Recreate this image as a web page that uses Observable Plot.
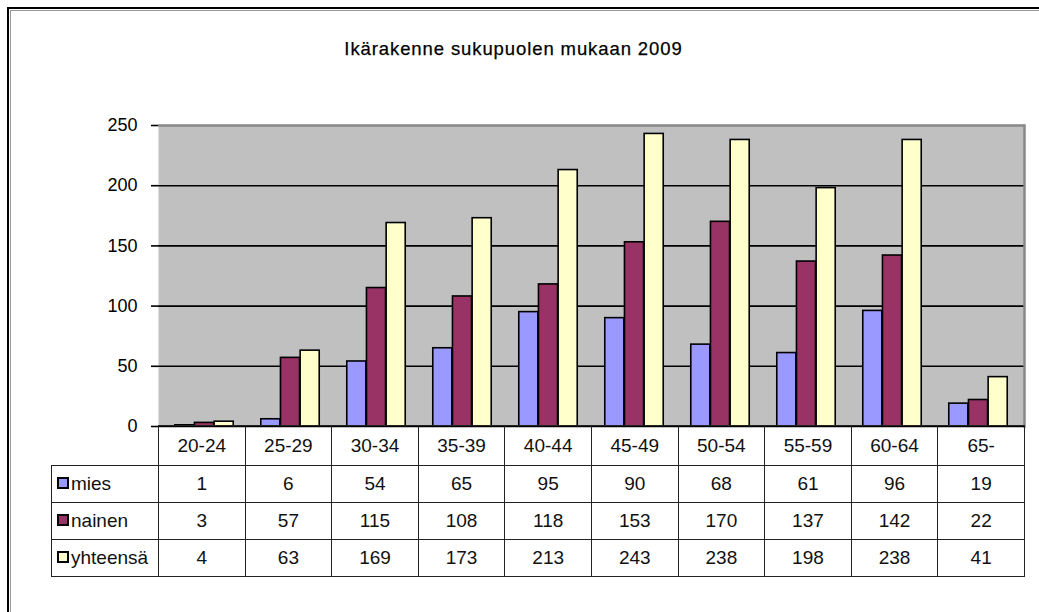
<!DOCTYPE html>
<html><head><meta charset="utf-8">
<script src="https://cdn.jsdelivr.net/npm/d3@7"></script>
<script src="https://cdn.jsdelivr.net/npm/@observablehq/plot@0.6"></script>
<style>
body{margin:0;background:#fff;font-family:"Liberation Sans",Arial,sans-serif;}
#wrap{position:relative;width:1039px;height:612px;overflow:hidden;background:#fff;}
.b1{position:absolute;left:7px;top:7px;width:1100px;height:700px;border-top:2px solid #000;border-left:2px solid #000;}
.b2{position:absolute;left:10px;top:10px;width:1100px;height:700px;border-top:1px solid #999;border-left:1px solid #999;}
#title{position:absolute;left:0;width:1027px;top:38px;text-align:center;font-size:18.5px;letter-spacing:0.9px;color:#000;-webkit-text-stroke:0.25px #000;}
#chart{position:absolute;left:0;top:0;}
#tbl{position:absolute;left:51px;top:425px;border-collapse:collapse;table-layout:fixed;font-size:19px;color:#111;}
#tbl td{border:1.5px solid #222;text-align:center;padding:0;white-space:nowrap;overflow:hidden;}
#tbl td.leg{text-align:left;padding-left:5px;}
#tbl td.corner{border-top:hidden;border-left:hidden;}
.key{display:inline-block;width:8px;height:8px;border:2px solid #000;margin-right:2px;vertical-align:1px;}
</style>
</head><body>
<div id="wrap">
  <div class="b1"></div><div class="b2"></div>
  <div id="title"></div>
  <div id="chart"></div>
</div>
<script>
const titleText = "Ikärakenne sukupuolen mukaan 2009";
const categories = ["20-24","25-29","30-34","35-39","40-44","45-49","50-54","55-59","60-64","65-"];
const series = ["mies","nainen","yhteensä"];
const mies = [1,6,54,65,95,90,68,61,96,19];
const nainen = [3,57,115,108,118,153,170,137,142,22];
const yhteensa = [4,63,169,173,213,243,238,198,238,41];
const colors = ["#9999FF","#993366","#FFFFCC"];
const yTicks = [0,50,100,150,200,250];

document.getElementById("title").textContent = titleText;

const W = 1039, H = 612, mL = 158, mR = 15, mT = 125, mB = 186;
const bw = (W - mL - mR) / categories.length;
const inner = d3.scaleBand().domain(series).range([0, bw]).paddingInner(0).paddingOuter(0.7);
const values = [mies, nainen, yhteensa];
const rows = categories.map((c, i) => {
  const r = {cat: c};
  series.forEach((s, k) => r[s] = values[k][i]);
  return r;
});

const barMarks = series.map((s, k) => Plot.barY(rows, {
  x: "cat", y: s, fill: colors[k], stroke: "#000", strokeWidth: 1.6,
  insetLeft: inner(s), insetRight: bw - inner(s) - inner.bandwidth()
}));

const chart = Plot.plot({
  width: W, height: H,
  marginLeft: mL, marginRight: mR, marginTop: mT, marginBottom: mB,
  style: {fontFamily: "'Liberation Sans', Arial, sans-serif", fontSize: "18px", background: "transparent", color: "#000", overflow: "visible"},
  x: {domain: categories, padding: 0, axis: null},
  y: {domain: [0, 250], axis: null},
  marks: [
    Plot.frame({fill: "#C0C0C0"}),
    Plot.ruleY(yTicks.filter(v => v > 0 && v < 250), {stroke: "#000", strokeWidth: 1.6}),
    Plot.ruleY([250], {stroke: "#888", strokeWidth: 2.5}),
    Plot.frame({anchor: "right", stroke: "#888", strokeWidth: 2.5}),
    ...barMarks,
    Plot.axisY({ticks: yTicks, tickSize: 7, tickPadding: 14, label: null, fontSize: 18, line: true, stroke: "#000", strokeWidth: 1.6, tickFormat: d3.format("d")}),
    Plot.ruleY([0], {stroke: "#000", strokeWidth: 1.6})
  ]
});
document.getElementById("chart").appendChild(chart);

// data table below the chart
const tbl = document.createElement("table");
tbl.id = "tbl";
const cg = document.createElement("colgroup");
const c0 = document.createElement("col"); c0.style.width = (mL - 51) + "px"; cg.appendChild(c0);
categories.forEach(() => { const c = document.createElement("col"); c.style.width = bw + "px"; cg.appendChild(c); });
tbl.appendChild(cg);
const hr = document.createElement("tr"); hr.style.height = "40px";
const corner = document.createElement("td"); corner.className = "corner"; hr.appendChild(corner);
categories.forEach(c => { const td = document.createElement("td"); td.textContent = c; hr.appendChild(td); });
tbl.appendChild(hr);
const rh = [37, 37, 37];
series.forEach((s, k) => {
  const tr = document.createElement("tr"); tr.style.height = rh[k] + "px";
  const lt = document.createElement("td"); lt.className = "leg";
  const key = document.createElement("span"); key.className = "key"; key.style.background = colors[k];
  lt.appendChild(key); lt.appendChild(document.createTextNode(s));
  tr.appendChild(lt);
  values[k].forEach(v => { const td = document.createElement("td"); td.textContent = v; tr.appendChild(td); });
  tbl.appendChild(tr);
});
document.getElementById("wrap").appendChild(tbl);
</script>
</body></html>
